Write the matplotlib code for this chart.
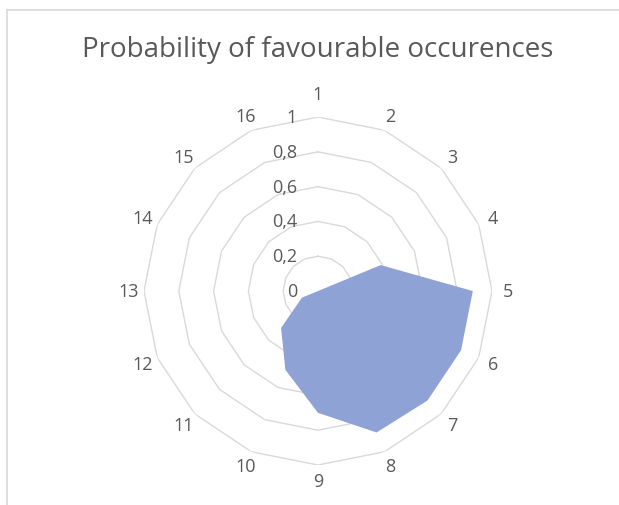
import numpy as np
import matplotlib.pyplot as plt

categories = [str(i) for i in range(1, 17)]
probability = [0, 0, 0, 0.39, 0.89, 0.89, 0.89, 0.88, 0.70, 0.49, 0.30, 0.10, 0, 0, 0, 0]
ring_values = [0.2, 0.4, 0.6, 0.8, 1.0]
ring_labels = ["0", "0,2", "0,4", "0,6", "0,8", "1"]

text_color = "#595959"
grid_color = "#d9d9d9"
fill_color = "#8ea2d6"

plt.rcParams['font.family'] = ['Open Sans', 'DejaVu Sans']

fig = plt.figure(figsize=(6.19, 5.06), dpi=100)
ax = fig.add_axes([0.2326, 0.079, 0.5622, 0.6877], projection='polar')
ax.set_theta_zero_location('N')
ax.set_theta_direction(-1)
ax.set_ylim(0, 1)
ax.grid(False)
ax.spines['polar'].set_visible(False)
ax.set_xticks([])
ax.set_yticks([])
ax.patch.set_alpha(0)

n = len(categories)
theta = np.linspace(0, 2 * np.pi, n, endpoint=False)
theta_closed = np.append(theta, theta[0])

# polygon rings
for rv in ring_values:
    ax.plot(theta_closed, [rv] * (n + 1), color=grid_color, lw=1, zorder=1)

# data
vals = np.append(probability, probability[0])
ax.fill(theta_closed, vals, color=fill_color, lw=0, zorder=2)

# radial labels along the first axis
for rv, lab in zip([0] + ring_values, ring_labels):
    ax.annotate(lab, xy=(0, rv), xytext=(-15, 0), textcoords='offset points',
                ha='right', va='center', fontsize=13, color=text_color, zorder=3)

# category labels
for i, (t, lab) in enumerate(zip(theta, categories)):
    r = 1.13 if i == 0 else 1.09
    ax.text(t, r, lab, ha='center', va='center', fontsize=13, color=text_color,
            clip_on=False)

fig.text(0.514, 0.902, "Probability of favourable occurences", ha='center',
         va='center', fontsize=20, color=text_color)

# chart frame (top and left edges visible)
fig.add_artist(plt.Line2D([0.0113, 0.0113], [0, 0.978], color=grid_color, lw=1.2))
fig.add_artist(plt.Line2D([0.0113, 1], [0.978, 0.978], color=grid_color, lw=1.2))

fig.savefig("out.png", dpi=100, facecolor='white')
